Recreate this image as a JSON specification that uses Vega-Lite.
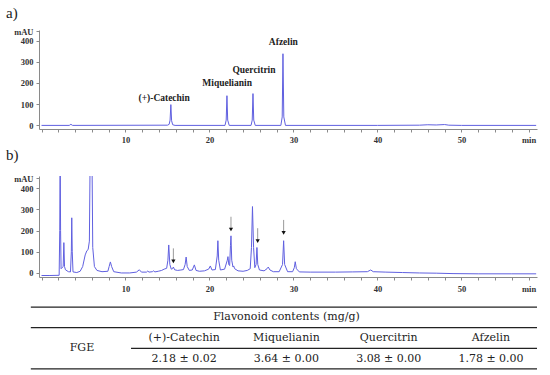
{
  "$schema": "https://vega.github.io/schema/vega-lite/v6.json",
  "autosize": {"type": "pad"},
  "padding": {"left": 5, "top": 6, "right": 0, "bottom": 0},
  "background": "white",
  "spacing": 47,
  "bounds": "flush",
  "config": {
    "view": {"stroke": null},
    "axis": {
      "grid": false,
      "title": null,
      "domainColor": "#8a8a8a",
      "tickColor": "#8a8a8a",
      "tickSize": 3,
      "labelPadding": 3,
      "labelFont": "Liberation Serif",
      "labelFontWeight": "bold",
      "labelFontSize": 8.5,
      "labelColor": "#333333",
      "labelOverlap": false,
      "labelFlush": false,
      "tickCount": 200
    }
  },
  "datasets": {
    "a": [
      {"t": 0, "v": 0}, {"t": 3.3, "v": 0}, {"t": 3.5, "v": 5}, {"t": 3.7, "v": 0},
      {"t": 15.0, "v": 1}, {"t": 15.2, "v": 5}, {"t": 15.31, "v": 25}, {"t": 15.4, "v": 98}, {"t": 15.49, "v": 22}, {"t": 15.62, "v": 3}, {"t": 15.9, "v": 0},
      {"t": 21.85, "v": 0}, {"t": 21.99, "v": 25}, {"t": 22.08, "v": 140}, {"t": 22.17, "v": 25}, {"t": 22.35, "v": 0},
      {"t": 24.95, "v": 0}, {"t": 25.09, "v": 25}, {"t": 25.18, "v": 150}, {"t": 25.27, "v": 25}, {"t": 25.45, "v": 0},
      {"t": 28.5, "v": 0}, {"t": 28.66, "v": 40}, {"t": 28.75, "v": 338}, {"t": 28.85, "v": 40}, {"t": 29.05, "v": 0},
      {"t": 40, "v": 0}, {"t": 45, "v": 1}, {"t": 46, "v": 3}, {"t": 47, "v": 2}, {"t": 48, "v": 4}, {"t": 48.5, "v": 1}, {"t": 50, "v": 0}, {"t": 58.9, "v": 0}
    ],
    "alabels": [
      {"t": 14.6, "v": 131, "label": "(+)-Catechin"},
      {"t": 22.1, "v": 199, "label": "Miquelianin"},
      {"t": 25.3, "v": 261, "label": "Quercitrin"},
      {"t": 28.8, "v": 392, "label": "Afzelin"}
    ],
    "b": [
      {"t": 0, "v": -12}, {"t": 1.0, "v": -12}, {"t": 2.1, "v": -11}, {"t": 2.17, "v": 200}, {"t": 2.22, "v": 600}, {"t": 2.27, "v": 200}, {"t": 2.33, "v": 20},
      {"t": 2.45, "v": 25}, {"t": 2.58, "v": 30}, {"t": 2.66, "v": 143}, {"t": 2.74, "v": 30}, {"t": 2.85, "v": 15}, {"t": 3.2, "v": 6},
      {"t": 3.45, "v": 5}, {"t": 3.55, "v": 100}, {"t": 3.6, "v": 260}, {"t": 3.66, "v": 100}, {"t": 3.75, "v": 5},
      {"t": 4.2, "v": 2}, {"t": 4.6, "v": 8}, {"t": 4.9, "v": 30}, {"t": 5.2, "v": 85}, {"t": 5.4, "v": 105}, {"t": 5.55, "v": 110}, {"t": 5.7, "v": 150},
      {"t": 5.8, "v": 600}, {"t": 6.0, "v": 600}, {"t": 6.1, "v": 120}, {"t": 6.3, "v": 30}, {"t": 6.6, "v": 12}, {"t": 7.2, "v": 6},
      {"t": 7.9, "v": 8}, {"t": 8.05, "v": 30}, {"t": 8.2, "v": 52}, {"t": 8.35, "v": 30}, {"t": 8.6, "v": 6},
      {"t": 9.5, "v": 0}, {"t": 10.5, "v": 0}, {"t": 11.3, "v": 4}, {"t": 11.65, "v": 15}, {"t": 11.9, "v": 4},
      {"t": 12.5, "v": 4}, {"t": 12.65, "v": 9}, {"t": 12.8, "v": 4}, {"t": 13.2, "v": 6}, {"t": 13.35, "v": 10}, {"t": 13.5, "v": 5},
      {"t": 13.9, "v": 8}, {"t": 14.3, "v": 12}, {"t": 14.6, "v": 18}, {"t": 14.9, "v": 22}, {"t": 15.05, "v": 60}, {"t": 15.15, "v": 132}, {"t": 15.28, "v": 40},
      {"t": 15.45, "v": 18}, {"t": 15.6, "v": 20}, {"t": 15.7, "v": 28}, {"t": 15.85, "v": 15}, {"t": 16.2, "v": 12}, {"t": 16.6, "v": 14},
      {"t": 16.9, "v": 16}, {"t": 17.1, "v": 40}, {"t": 17.22, "v": 75}, {"t": 17.35, "v": 30}, {"t": 17.6, "v": 12}, {"t": 17.95, "v": 14},
      {"t": 18.2, "v": 38}, {"t": 18.4, "v": 12}, {"t": 18.8, "v": 8}, {"t": 19.4, "v": 10}, {"t": 19.9, "v": 18}, {"t": 20.1, "v": 33}, {"t": 20.3, "v": 14},
      {"t": 20.7, "v": 16}, {"t": 20.92, "v": 80}, {"t": 21.0, "v": 152}, {"t": 21.1, "v": 60}, {"t": 21.3, "v": 14}, {"t": 21.8, "v": 18},
      {"t": 22.12, "v": 60}, {"t": 22.2, "v": 77}, {"t": 22.3, "v": 40}, {"t": 22.4, "v": 35}, {"t": 22.5, "v": 130}, {"t": 22.56, "v": 175}, {"t": 22.65, "v": 60},
      {"t": 22.8, "v": 28}, {"t": 22.88, "v": 33}, {"t": 23.0, "v": 20}, {"t": 23.4, "v": 10}, {"t": 24.0, "v": 8}, {"t": 24.5, "v": 12},
      {"t": 24.85, "v": 20}, {"t": 25.0, "v": 120}, {"t": 25.12, "v": 313}, {"t": 25.25, "v": 120}, {"t": 25.4, "v": 25}, {"t": 25.55, "v": 40},
      {"t": 25.65, "v": 120}, {"t": 25.75, "v": 40}, {"t": 25.95, "v": 14}, {"t": 26.5, "v": 10}, {"t": 26.85, "v": 20}, {"t": 27.0, "v": 28},
      {"t": 27.2, "v": 14}, {"t": 27.6, "v": 6}, {"t": 28.3, "v": 6}, {"t": 28.7, "v": 40}, {"t": 28.83, "v": 152}, {"t": 28.95, "v": 40},
      {"t": 29.3, "v": 6}, {"t": 29.9, "v": 6}, {"t": 30.1, "v": 25}, {"t": 30.21, "v": 53}, {"t": 30.35, "v": 20}, {"t": 30.7, "v": 5},
      {"t": 32, "v": 4}, {"t": 35, "v": 4}, {"t": 37, "v": 5}, {"t": 38.8, "v": 6}, {"t": 39.2, "v": 14}, {"t": 39.5, "v": 6},
      {"t": 41, "v": 4}, {"t": 43, "v": 2}, {"t": 45, "v": 0}, {"t": 47, "v": -1}, {"t": 49, "v": -3}, {"t": 52, "v": -4}, {"t": 56, "v": -4}, {"t": 58.9, "v": -4}
    ],
    "arrows": [
      {"t": 15.7, "top": 116, "bot": 61, "head": 55},
      {"t": 22.56, "top": 265, "bot": 211, "head": 205},
      {"t": 25.74, "top": 211, "bot": 156, "head": 150},
      {"t": 28.83, "top": 250, "bot": 195, "head": 189}
    ],
    "rules": [
      {"c1": -0.5, "c2": 4.45, "r": 0},
      {"c1": -0.5, "c2": 4.45, "r": 1},
      {"c1": 0.48, "c2": 4.45, "r": 2},
      {"c1": -0.5, "c2": 4.45, "r": 3}
    ],
    "cells": [
      {"col": 2, "r": 0.5, "text": "Flavonoid contents (mg/g)"},
      {"col": 0, "r": 2, "text": "FGE"},
      {"col": 1, "r": 1.5, "text": "(+)-Catechin"},
      {"col": 2, "r": 1.5, "text": "Miquelianin"},
      {"col": 3, "r": 1.5, "text": "Quercitrin"},
      {"col": 4, "r": 1.5, "text": "Afzelin"},
      {"col": 1, "r": 2.5, "text": "2.18 ± 0.02"},
      {"col": 2, "r": 2.5, "text": "3.64 ± 0.00"},
      {"col": 3, "r": 2.5, "text": "3.08 ± 0.00"},
      {"col": 4, "r": 2.5, "text": "1.78 ± 0.00"}
    ]
  },
  "vconcat": [
    {
      "width": 498,
      "height": 99,
      "layer": [
        {
          "data": {"name": "a"},
          "mark": {"type": "line", "color": "#6060e0", "strokeWidth": 1, "clip": true},
          "encoding": {
            "x": {"field": "t", "type": "quantitative", "scale": {"domain": [-0.3, 59], "nice": false, "zero": false},
              "axis": {"values": [0,2,4,6,8,10,12,14,16,18,20,22,24,26,28,30,32,34,36,38,40,42,44,46,48,50,52,54,56,58],
                "format": "d", "tickCount": 200, "labelOverlap": false, "labelFlush": false, "labelBound": false,
                "labelExpr": "datum.value == 58 ? 'min' : (datum.value % 10 == 0 && datum.value > 0 ? datum.label : '')"}},
            "y": {"field": "v", "type": "quantitative", "scale": {"domain": [-17, 450], "nice": false, "zero": false},
              "axis": {"values": [0, 100, 200, 300, 400, 445], "format": "d", "tickCount": 200, "labelOverlap": false, "labelFlush": false, "labelBound": false,
                "labelExpr": "datum.value > 440 ? 'mAU' : datum.label"}}
          }
        },
        {
          "data": {"name": "alabels"},
          "mark": {"type": "text", "font": "Liberation Serif", "fontWeight": "bold", "fontSize": 9.5, "color": "#222222", "baseline": "middle"},
          "encoding": {
            "x": {"field": "t", "type": "quantitative"},
            "y": {"field": "v", "type": "quantitative"},
            "text": {"field": "label"}
          }
        },
        {
          "data": {"values": [{"t": -4.23, "v": 563, "label": "a)"}]},
          "mark": {"type": "text", "font": "Liberation Serif", "fontSize": 15, "color": "#222222", "baseline": "top", "align": "left"},
          "encoding": {
            "x": {"field": "t", "type": "quantitative"},
            "y": {"field": "v", "type": "quantitative"},
            "text": {"field": "label"}
          }
        }
      ]
    },
    {
      "width": 498,
      "height": 101,
      "layer": [
        {
          "data": {"name": "b"},
          "mark": {"type": "line", "color": "#6060e0", "strokeWidth": 1, "clip": true},
          "encoding": {
            "x": {"field": "t", "type": "quantitative", "scale": {"domain": [-0.3, 59], "nice": false, "zero": false},
              "axis": {"values": [0,2,4,6,8,10,12,14,16,18,20,22,24,26,28,30,32,34,36,38,40,42,44,46,48,50,52,54,56,58],
                "format": "d", "tickCount": 200, "labelPadding": 4, "labelOverlap": false, "labelFlush": false, "labelBound": false,
                "labelExpr": "datum.value == 58 ? 'min' : (datum.value % 10 == 0 && datum.value > 0 ? datum.label : '')"}},
            "y": {"field": "v", "type": "quantitative", "scale": {"domain": [-19, 457], "nice": false, "zero": false},
              "axis": {"values": [0, 100, 200, 300, 400, 447], "format": "d", "tickCount": 200, "labelOverlap": false, "labelFlush": false, "labelBound": false,
                "labelExpr": "datum.value > 440 ? 'mAU' : datum.label"}}
          }
        },
        {
          "data": {"name": "arrows"},
          "mark": {"type": "rule", "color": "#9a9a9a", "strokeWidth": 1},
          "encoding": {
            "x": {"field": "t", "type": "quantitative"},
            "y": {"field": "top", "type": "quantitative"},
            "y2": {"field": "bot"}
          }
        },
        {
          "data": {"name": "arrows"},
          "mark": {"type": "point", "shape": "triangle-down", "filled": true, "color": "#111111", "size": 18, "opacity": 1},
          "encoding": {
            "x": {"field": "t", "type": "quantitative"},
            "y": {"field": "head", "type": "quantitative"}
          }
        },
        {
          "data": {"values": [{"t": -4.23, "v": 589, "label": "b)"}]},
          "mark": {"type": "text", "font": "Liberation Serif", "fontSize": 15, "color": "#222222", "baseline": "top", "align": "left"},
          "encoding": {
            "x": {"field": "t", "type": "quantitative"},
            "y": {"field": "v", "type": "quantitative"},
            "text": {"field": "label"}
          }
        }
      ]
    },
    {
      "width": 498,
      "height": 46,
      "layer": [
        {
          "data": {"name": "rules"},
          "mark": {"type": "rule", "color": "#222222", "strokeWidth": 1.3},
          "encoding": {
            "x": {"field": "c1", "type": "quantitative", "scale": {"domain": [-0.42, 4.45], "nice": false, "zero": false}, "axis": null},
            "x2": {"field": "c2"},
            "y": {"field": "r", "type": "quantitative", "scale": {"domain": [0.82, 3.05], "reverse": true, "nice": false, "zero": false}, "axis": null}
          }
        },
        {
          "data": {"name": "cells"},
          "mark": {"type": "text", "font": "DejaVu Serif", "fontSize": 11, "color": "#222222", "baseline": "middle"},
          "encoding": {
            "x": {"field": "col", "type": "quantitative"},
            "y": {"field": "r", "type": "quantitative"},
            "text": {"field": "text"}
          }
        }
      ]
    }
  ]
}
